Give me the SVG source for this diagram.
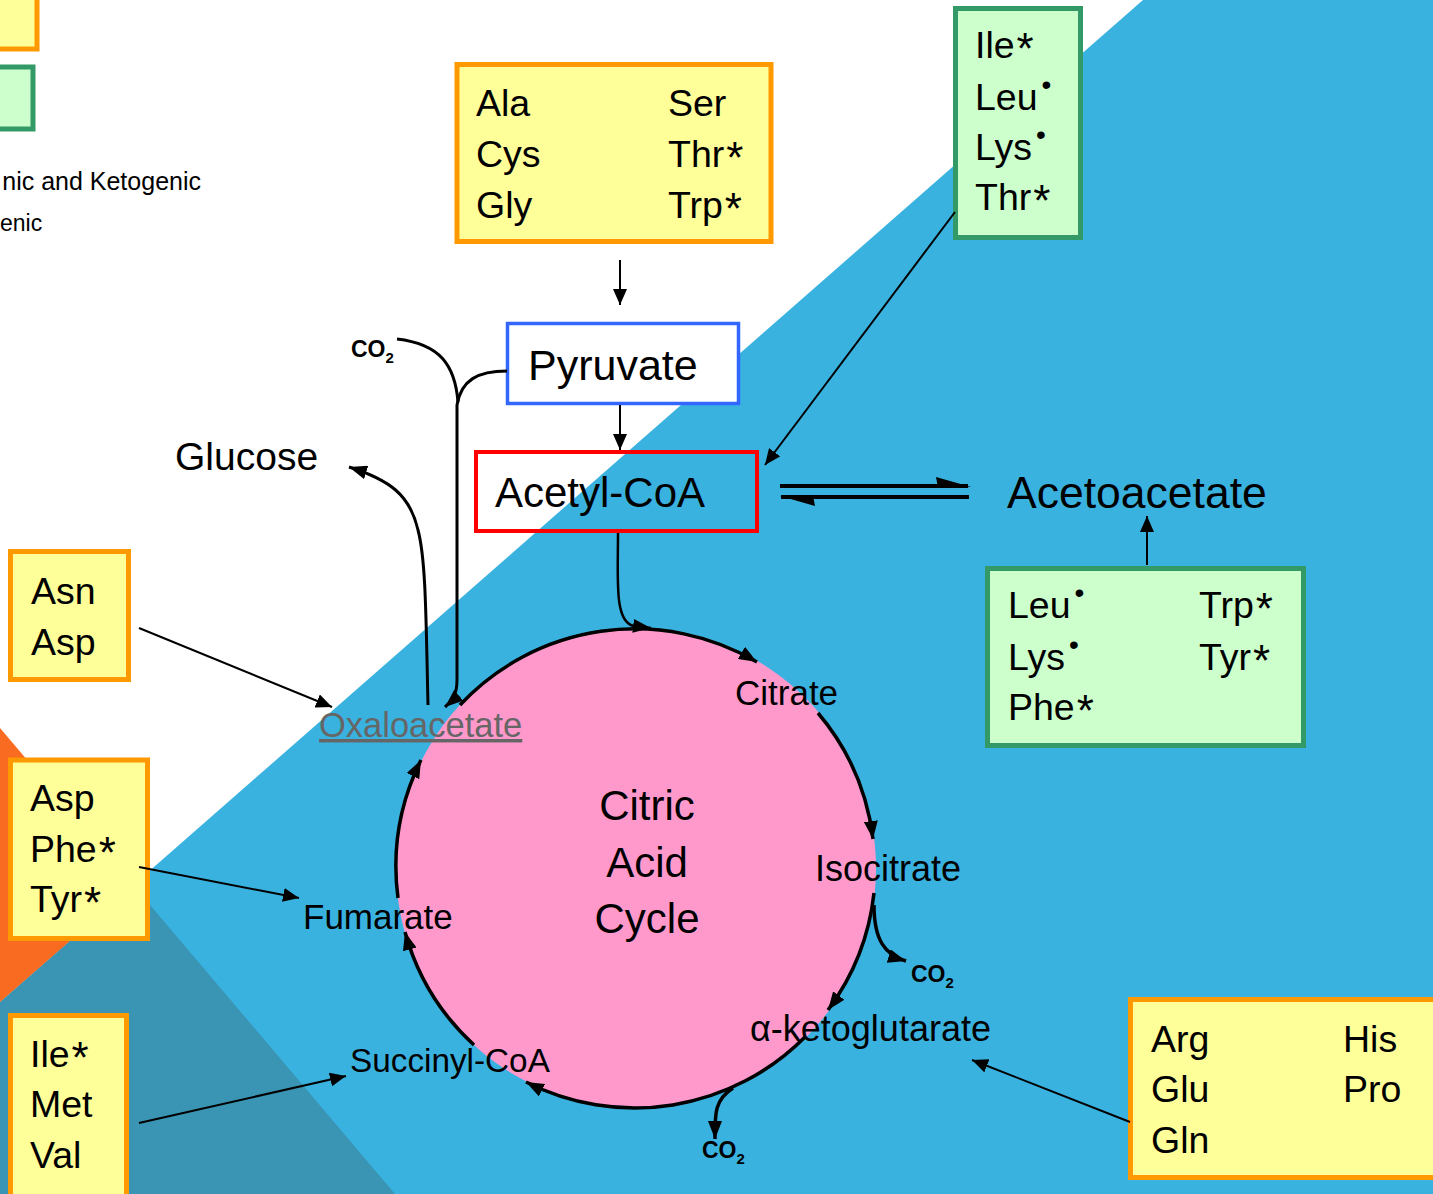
<svg xmlns="http://www.w3.org/2000/svg" width="1433" height="1194" viewBox="0 0 1433 1194">
  <defs>
    <style>
      text { font-family: "Liberation Sans", Arial, sans-serif; fill: #000; }
      .aa { font-size: 37.5px; }
      .st { font-size: 44px; }
      .big { font-size: 43px; }
      .step { font-size: 35px; }
      .co2 { font-size: 23px; font-weight: bold; }
      .sub { font-size: 15px; }
      .legend { font-size: 25px; }
      .ybox { fill: #FFFF99; stroke: #FF9900; stroke-width: 5; }
      .gbox { fill: #CCFFCC; stroke: #339966; stroke-width: 5; }
      .ln { fill: none; stroke: #000; stroke-width: 2; }
      .arc { fill: none; stroke: #000; stroke-width: 3.5; }
    </style>
    <marker id="ah" markerUnits="userSpaceOnUse" markerWidth="16" markerHeight="14" refX="16" refY="7" orient="auto">
      <path d="M0,0 L16,7 L0,14 z" fill="#000"/>
    </marker>
    <marker id="ahb" markerUnits="userSpaceOnUse" markerWidth="18" markerHeight="14" refX="18" refY="7" orient="auto">
      <path d="M0,0 L18,7 L0,14 z" fill="#000"/>
    </marker>
  </defs>

  <!-- background bands -->
  <g id="background">
    <rect x="0" y="0" width="1433" height="1194" fill="#FFFFFF"/>
    <polygon points="1143,0 1433,0 1433,1194 0,1194 0,1002" fill="#3AB2E0"/>
    <polygon points="133.5,885.4 395,1194 0,1194 0,1002" fill="#3A94B4"/>
    <polygon points="0,728 133.5,885.4 0,1002" fill="#F96B20"/>
  </g>

  <!-- legend (partly off the left edge) -->
  <g id="legend">
    <rect x="-10" y="-10" width="47" height="59" class="ybox"/>
    <rect x="-10" y="67" width="43" height="62" class="gbox"/>
    <text class="legend" x="201" y="190" text-anchor="end">nic and Ketogenic</text>
    <text class="legend" x="0" y="231" style="font-size:23px">enic</text>
  </g>

  <!-- citric acid cycle -->
  <g id="cycle">
    <circle cx="636" cy="868" r="240" fill="#FF99CC"/>
    <text class="big" x="647" y="820" text-anchor="middle" style="font-size:42px">Citric</text>
    <text class="big" x="647" y="877" text-anchor="middle" style="font-size:42px">Acid</text>
    <text class="big" x="647" y="933" text-anchor="middle" style="font-size:42px">Cycle</text>
  </g>

  <!-- metabolites -->
  <g id="pyruvate">
    <rect x="507.5" y="323.5" width="231" height="80" fill="#FFFFFF" stroke="#3366FF" stroke-width="3.5"/>
    <text class="big" x="528" y="380">Pyruvate</text>
  </g>
  <g id="acetyl-coa">
    <rect x="476" y="452" width="281" height="79" fill="none" stroke="#FF0000" stroke-width="4"/>
    <text class="big" x="495" y="507" style="font-size:42px">Acetyl-CoA</text>
  </g>
  <g id="glucose">
    <text class="big" x="175" y="470" style="font-size:39px">Glucose</text>
  </g>
  <g id="acetoacetate">
    <text class="big" x="1007" y="508" style="font-size:44.5px">Acetoacetate</text>
  </g>
  <g id="citrate"><text class="step" x="735" y="705">Citrate</text></g>
  <g id="isocitrate"><text class="step" x="815" y="881" style="font-size:36px">Isocitrate</text></g>
  <g id="ketoglutarate"><text class="step" x="750" y="1041" style="font-size:36px">α-ketoglutarate</text></g>
  <g id="succinyl-coa"><text class="step" x="350" y="1072" style="font-size:33.3px">Succinyl-CoA</text></g>
  <g id="fumarate"><text class="step" x="303" y="929">Fumarate</text></g>
  <g id="oxaloacetate"><text class="step" x="319" y="737" style="fill:#666666;font-size:34.5px" text-decoration="underline">Oxaloacetate</text></g>

  <g id="co2-1"><text class="co2" x="351" y="357">CO<tspan class="sub" dy="6">2</tspan></text></g>
  <g id="co2-2"><text class="co2" x="911" y="982">CO<tspan class="sub" dy="6">2</tspan></text></g>
  <g id="co2-3"><text class="co2" x="702" y="1158">CO<tspan class="sub" dy="6">2</tspan></text></g>

  <!-- amino acid groups -->
  <g id="aa-pyruvate">
    <rect x="457" y="64.5" width="314" height="177" class="ybox"/>
    <text class="aa" x="476" y="116">Ala</text>
    <text class="aa" x="476" y="167">Cys</text>
    <text class="aa" x="476" y="218">Gly</text>
    <text class="aa" x="668" y="116">Ser</text>
    <text class="aa" x="668" y="167">Thr<tspan class="st" dx="2" dy="6">*</tspan></text>
    <text class="aa" x="668" y="218">Trp<tspan class="st" dx="2" dy="6">*</tspan></text>
  </g>
  <g id="aa-acetylcoa">
    <rect x="955.5" y="8.5" width="125" height="229" class="gbox"/>
    <text class="aa" x="975" y="58">Ile<tspan class="st" dx="2" dy="6">*</tspan></text>
    <text class="aa" x="975" y="110">Leu<tspan dx="4" dy="-16" font-size="28">•</tspan></text>
    <text class="aa" x="975" y="160">Lys<tspan dx="4" dy="-16" font-size="28">•</tspan></text>
    <text class="aa" x="975" y="210">Thr<tspan class="st" dx="2" dy="6">*</tspan></text>
  </g>
  <g id="aa-acetoacetate">
    <rect x="987.5" y="568.5" width="316" height="177" class="gbox"/>
    <text class="aa" x="1008" y="618">Leu<tspan dx="4" dy="-16" font-size="28">•</tspan></text>
    <text class="aa" x="1008" y="670">Lys<tspan dx="4" dy="-16" font-size="28">•</tspan></text>
    <text class="aa" x="1008" y="720">Phe<tspan class="st" dx="2" dy="6">*</tspan></text>
    <text class="aa" x="1199" y="618">Trp<tspan class="st" dx="2" dy="6">*</tspan></text>
    <text class="aa" x="1199" y="670">Tyr<tspan class="st" dx="2" dy="6">*</tspan></text>
  </g>
  <g id="aa-oxaloacetate">
    <rect x="10.5" y="551.5" width="118" height="128" class="ybox"/>
    <text class="aa" x="31" y="604">Asn</text>
    <text class="aa" x="31" y="655">Asp</text>
  </g>
  <g id="aa-fumarate">
    <rect x="10.5" y="760" width="137" height="178.5" class="ybox"/>
    <text class="aa" x="30" y="811">Asp</text>
    <text class="aa" x="30" y="862">Phe<tspan class="st" dx="2" dy="6">*</tspan></text>
    <text class="aa" x="30" y="912">Tyr<tspan class="st" dx="2" dy="6">*</tspan></text>
  </g>
  <g id="aa-succinylcoa">
    <rect x="10.5" y="1015.5" width="116" height="200" class="ybox"/>
    <text class="aa" x="30" y="1067">Ile<tspan class="st" dx="2" dy="6">*</tspan></text>
    <text class="aa" x="30" y="1117">Met</text>
    <text class="aa" x="30" y="1168">Val</text>
  </g>
  <g id="aa-ketoglutarate">
    <rect x="1130.5" y="999.5" width="320" height="178" class="ybox"/>
    <text class="aa" x="1151" y="1052">Arg</text>
    <text class="aa" x="1151" y="1102">Glu</text>
    <text class="aa" x="1151" y="1153">Gln</text>
    <text class="aa" x="1343" y="1052">His</text>
    <text class="aa" x="1343" y="1102">Pro</text>
  </g>

  <g id="connectors">
    <!-- feeding arrows -->
    <line class="ln" x1="620" y1="260" x2="620" y2="305" marker-end="url(#ah)"/>
    <line class="ln" x1="620" y1="405" x2="620" y2="450" marker-end="url(#ah)"/>
    <line class="ln" x1="955" y1="212" x2="765" y2="465" marker-end="url(#ah)"/>
    <line class="ln" x1="139" y1="628" x2="332" y2="707" marker-end="url(#ah)"/>
    <line class="ln" x1="139" y1="867" x2="299" y2="898" marker-end="url(#ah)"/>
    <line class="ln" x1="139" y1="1123" x2="346" y2="1076" marker-end="url(#ah)"/>
    <line class="ln" x1="1130" y1="1122" x2="972" y2="1060" marker-end="url(#ah)"/>
    <line class="ln" x1="1147" y1="565" x2="1147" y2="516" marker-end="url(#ah)"/>

    <!-- acetyl-CoA <=> acetoacetate -->
    <line x1="780" y1="486" x2="968" y2="486" stroke="#000" stroke-width="4"/>
    <polygon points="936,477 971,487 938,488" fill="#000"/>
    <line x1="781" y1="497" x2="969" y2="497" stroke="#000" stroke-width="4"/>
    <polygon points="815,506 780,496 813,495" fill="#000"/>

    <!-- pyruvate / CO2 to oxaloacetate, oxaloacetate to glucose -->
    <path class="arc" style="stroke-width:3" d="M397,339 C440,344 455,365 458,402"/>
    <path class="arc" style="stroke-width:3" d="M507,371 C478,371 461,380 457,405 L457,680 C457,695 452,701 445,707" marker-end="url(#ahb)"/>
    <path class="arc" style="stroke-width:3" d="M428,705 C426,620 426,560 418,530 C410,495 390,480 349,467" marker-end="url(#ahb)"/>

    <!-- acetyl-CoA into the cycle -->
    <path class="arc" style="stroke-width:2.5" d="M618,533 C618,580 614,622 634,626 L651,628" marker-end="url(#ahb)"/>

    <!-- cycle steps -->
    <path class="arc" d="M460,705 A240,240 0 0 1 757,662" marker-end="url(#ahb)"/>
    <path class="arc" d="M818,713 A240,240 0 0 1 873,839" marker-end="url(#ahb)"/>
    <path class="arc" d="M874,893 A240,240 0 0 1 828,1010" marker-end="url(#ahb)"/>
    <path class="arc" d="M874,905 C874,940 885,955 906,961" marker-end="url(#ahb)"/>
    <path class="arc" d="M805,1037 A240,240 0 0 1 526,1082" marker-end="url(#ahb)"/>
    <path class="arc" d="M733,1088 C714,1100 715,1115 715,1139" marker-end="url(#ahb)"/>
    <path class="arc" d="M474,1045 A240,240 0 0 1 405,932" marker-end="url(#ahb)"/>
    <path class="arc" d="M398,898 A240,240 0 0 1 421,760" marker-end="url(#ahb)"/>
  </g>
</svg>
